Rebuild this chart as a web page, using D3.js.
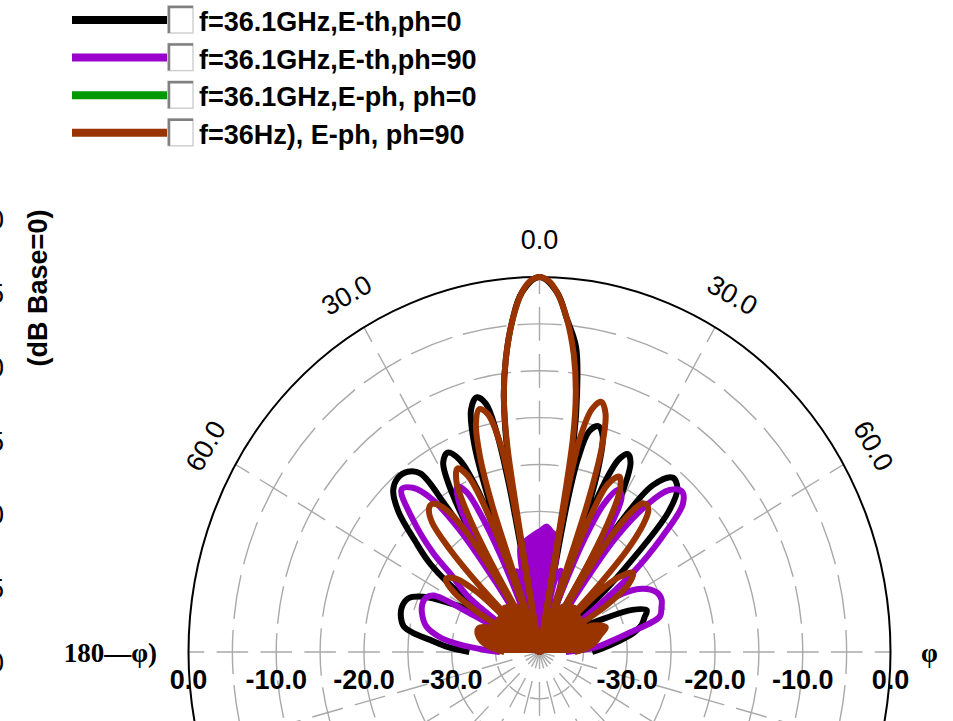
<!DOCTYPE html>
<html>
<head>
<meta charset="utf-8">
<script src="https://cdn.jsdelivr.net/npm/d3@7"></script>
<style>
  body { margin: 0; background: #fff; }
  svg { display: block; }
  text { font-family: "Liberation Sans", Arial, sans-serif; fill: #000; }
</style>
</head>
<body>
<script>
// legend
var seriesNames = ["f=36.1GHz,E-th,ph=0", "f=36.1GHz,E-th,ph=90",
                   "f=36.1GHz,E-ph, ph=0", "f=36Hz), E-ph, ph=90"];
var seriesColors = ["#000000", "#9900cc", "#009900", "#993300"];

// E-th, ph=0 : theta (deg) / level (dB)
var ethPh0Theta = [-90,-87,-84,-82,-80,-77,-73,-69,-66,-63,-60,-57.5,
  -56,-53,-50,-47,-44,-41,-38,-35.5,-34.4,-33.5,-33,
  -32,-30.5,-28.5,-26.2,-24,-22.3,-21.3,-20.5,
  -19.5,-18.5,-16.8,-14.8,-13,-11.8,-11,-10.5,
  -10,-8.5,-7,-5,-3,0,3,5,7.3,8.8,9.8,10.5,
  11.2,12,13.5,15.5,17.3,18.8,19.8,20.5,
  21.3,22.3,23.8,25.5,27.2,29,30.5,31.5,
  32.5,33.8,36,39.2,42,44.5,47,49,50.5,
  58,62,64,67,70,73,76,79,81,85,90];
var ethPh0Db = [-32,-29.5,-27.4,-25.5,-24.3,-23.8,-23.6,-24,-25.5,-28.5,-31.5,-40,
  -30,-24.5,-21.4,-18,-16,-15.4,-15.6,-16.6,-21,-28,-40,
  -27,-20.5,-17,-16.3,-17.5,-21,-27,-40,
  -22,-16.5,-13,-11.9,-12.8,-16,-22,-40,
  -20,-12.5,-8.5,-4.5,-1.6,0,-1.6,-4.3,-7.2,-12,-17,-40,
  -24,-19,-15.8,-15,-15.8,-19,-24,-40,
  -26,-20.5,-17.5,-16.6,-17.3,-20.5,-26,-40,
  -30,-23,-18,-16,-16.5,-19,-25.6,-31,-40,
  -38,-34,-32,-28.5,-27,-27.5,-28,-29,-30,-32,-34];

// E-th, ph=90
var ethPh90Theta = [-90,-88,-85,-82,-78,-73,-69,-66,-63.5,-62.5,-61.5,
  -57,-54,-50.5,-49,-45.6,-42.2,-39.5,-37,-35,-33.8,-33,
  -32,-30.5,-28,-26,-24.5,-23,-21,
  -19.5,-17,-14.5,-12,
  -11,-7,-3,1,3.5,6,9.2,10.5,
  13,15.5,18,19.5,
  21.5,23,25,27.5,29.5,31,32.5,33.5,
  34.5,35.5,38,40.5,43.4,46,48.7,51.5,54,55,
  56,60,64.6,68,71,74.6,78.7,82,85.4,90];
var ethPh90Db = [-35.5,-33.8,-30.8,-28.5,-26.8,-26,-25.7,-25.8,-26.5,-31,-40,
  -37,-30,-26.8,-24,-19.8,-16.6,-17.3,-19.5,-24,-31,-40,
  -28,-22.5,-20,-21,-24,-30,-40,
  -33,-31,-32,-40,
  -28.6,-28,-27.5,-27,-26.6,-27.1,-27.6,-40,
  -32,-31,-32,-40,
  -33,-27,-22.5,-20.5,-21,-24,-29,-40,
  -31,-25,-20,-17.3,-16.4,-17.3,-21.4,-26.4,-33,-40,
  -29.4,-26.5,-25.2,-25,-25.3,-25.8,-29.6,-31.8,-33.5,-37];
// the small central lobe of E-th, ph=90 shows as a solid patch
var ethPh90CoreTheta = [-12,-11,-7,-3,1,3.5,6,9.2,10.5];
var ethPh90CoreDb = [-40,-28.6,-28,-27.5,-27,-26.6,-27.1,-27.6,-40];

// E-ph, ph=0
var ephPh0Theta = [-6,-2,0,2,6];
var ephPh0Db = [-40,-38.6,-38.3,-38.6,-40];

// E-ph, ph=90
var ephPh90Theta = [-90,-85,-80,-75,-70,-66,-63,-61.5,
  -59,-57,-54,-51,-48,-45,
  -44,-43,-41.5,-39.5,-38,-36.5,-34.5,-33,-32,-31,
  -30,-29,-27.5,-25.5,-23.5,-22,-21,-20,
  -19,-18,-16.5,-14.8,-13,-11.5,-10.6,-10,
  -9.5,-8.5,-7,-5,-3,-1.5,0,1.5,3,5,7,8.5,9.5,10,
  10.6,11.5,13,14.8,16.5,18,19,20,
  21,22,23.5,26,28,29.5,30.5,31.5,
  32.5,33.5,35,36.5,37.8,39.5,41,42.5,43.5,44.5,
  46.5,48.5,51.5,54.5,57,60,
  62,65,70.7,75,80,85,90];
var ephPh90Db = [-36,-34.5,-33.3,-32.7,-32.6,-33.5,-36,-40,
  -32,-28.5,-26.8,-27.5,-30.5,-40,
  -30,-25,-21.5,-20.2,-20,-20.4,-22,-25,-30,-40,
  -28.5,-23,-19.5,-18.3,-19.5,-23,-28.5,-40,
  -23.5,-18,-14.5,-13.2,-14,-17,-22,-40,
  -18,-12.5,-8.5,-4.5,-1.6,-0.4,0,-0.4,-1.6,-4.3,-8,-12,-17,-40,
  -22,-16.5,-13.4,-12.4,-13.5,-17,-23,-40,
  -29,-24,-20.5,-19.2,-20.5,-24,-29,-40,
  -30,-25,-21.8,-20.3,-20.1,-20.5,-22,-25,-30,-40,
  -31,-28,-26.4,-27.5,-31,-40,
  -36,-33.3,-32,-32.8,-33.5,-34.5,-36];
// dense low-level lobes of E-ph, ph=90 near the pole merge into a solid patch
var ephPh90CoreTheta = [-90,-85,-80,-75,-70,-66,-60,-50,-40,-30,-20,-15,-12,
  12,15,20,30,40,50,60,66,70.7,75,80,85,90];
var ephPh90CoreDb = [-36,-34.5,-33.3,-32.7,-32.6,-33.5,-34,-34,-33.6,-34,-35,-36,-40,
  -40,-36,-35,-34,-33.6,-34,-34,-33.5,-32,-32.8,-33.5,-34.5,-36];

var dbTicks = [0, -10, -20, -30];
var dbRings = [-35, -30, -25, -20, -15, -10, -5];
var angleTicks = [-60, -30, 0, 30, 60];
var spokeAngles = [-90, -60, -30, 0, 30, 60, 90, 105, 120, 135, 150, 165, 180, 195, 210, 225, 240, 255];
var sideTicks = [0, -5, -10, -15, -20, -25, -30];

const WIDTH = 953;
const HEIGHT = 721;
const CX = 539.5, CY = 652;   // pole
const RX = 351, RY = 375;     // 0 dB ring (picture is a bit taller than wide)
const GRID = "#a9a9a9";

var rScale = d3.scaleLinear().domain([-40, 0]).range([0, 1]).clamp(true);

var polar = function (theta, r) {
  var a = theta * Math.PI / 180;
  return [CX + RX * r * Math.sin(a), CY - RY * r * Math.cos(a)];
};

var ringPath = function (r) {
  var rx = RX * r, ry = RY * r;
  return "M" + (CX + rx) + "," + CY +
    "A" + rx + "," + ry + " 0 1 1 " + (CX - rx) + "," + CY +
    "A" + rx + "," + ry + " 0 1 1 " + (CX + rx) + "," + CY;
};

var svg = d3.select("body").append("svg")
  .attr("width", WIDTH)
  .attr("height", HEIGHT);

// ---- grid
var grid = svg.append("g");

dbRings.forEach(function (db) {
  var r = rScale(db);
  var n = Math.max(1, Math.round(r * 3.8));
  grid.append("path")
    .attr("d", ringPath(r))
    .attr("fill", "none")
    .attr("stroke", GRID)
    .attr("stroke-width", 1.4)
    .attr("pathLength", 12)
    .attr("stroke-dasharray", (0.8 / n) + " " + (0.2 / n))
    .attr("stroke-dashoffset", 0.4 / n);
});

spokeAngles.forEach(function (t) {
  var p = polar(t, 1);
  grid.append("path")
    .attr("d", "M" + CX + "," + CY + "L" + p[0] + "," + p[1])
    .attr("stroke", GRID)
    .attr("stroke-width", 1.4)
    .attr("pathLength", 8)
    .attr("stroke-dasharray", "0.72 0.28")
    .attr("stroke-dashoffset", 0.36);
});

grid.append("path")
  .attr("d", ringPath(1))
  .attr("fill", "none")
  .attr("stroke", "#000")
  .attr("stroke-width", 2);

// ---- traces
var line = d3.line()
  .x(function (d) { return d[0]; })
  .y(function (d) { return d[1]; })
  .curve(d3.curveCatmullRom.alpha(0.5));

var toPoints = function (thetas, dbs) {
  return thetas.map(function (t, j) { return polar(t, rScale(dbs[j])); });
};

var drawCore = function (thetas, dbs, color) {
  var pts = [[CX, CY]].concat(toPoints(thetas, dbs), [[CX, CY]]);
  svg.append("path")
    .attr("d", d3.line()(pts) + "Z")
    .attr("fill", color)
    .attr("stroke", color)
    .attr("stroke-width", 2);
};

var drawTrace = function (thetas, dbs, color) {
  svg.append("path")
    .attr("d", line(toPoints(thetas, dbs)))
    .attr("fill", "none")
    .attr("stroke", color)
    .attr("stroke-width", 6)
    .attr("stroke-linejoin", "round");
};

drawTrace(ethPh0Theta, ethPh0Db, seriesColors[0]);
drawCore(ethPh90CoreTheta, ethPh90CoreDb, seriesColors[1]);
drawTrace(ethPh90Theta, ethPh90Db, seriesColors[1]);
drawTrace(ephPh0Theta, ephPh0Db, seriesColors[2]);
drawCore(ephPh90CoreTheta, ephPh90CoreDb, seriesColors[3]);
drawTrace(ephPh90Theta, ephPh90Db, seriesColors[3]);

// ---- radial tick labels
dbTicks.forEach(function (d) {
  [-1, 1].forEach(function (s) {
    svg.append("text")
      .attr("x", CX + s * RX * rScale(d))
      .attr("y", 689)
      .attr("text-anchor", "middle")
      .attr("font-size", 27)
      .attr("font-weight", "bold")
      .text(d.toFixed(1));
  });
});

// ---- angle labels
angleTicks.forEach(function (t) {
  var p = polar(t, 1.1);
  svg.append("text")
    .attr("transform", "translate(" + p[0] + "," + p[1] + ") rotate(" + t + ")")
    .attr("text-anchor", "middle")
    .attr("dy", "0.36em")
    .attr("font-size", 27)
    .text(Math.abs(t).toFixed(1));
});

svg.append("text")
  .attr("x", 157).attr("y", 662)
  .attr("text-anchor", "end")
  .attr("font-size", 27)
  .attr("font-weight", "bold")
  .style("font-family", "'Liberation Serif', 'Times New Roman', serif")
  .text("180\u2014\u03c6)");

svg.append("text")
  .attr("x", 921).attr("y", 662)
  .attr("font-size", 27)
  .attr("font-weight", "bold")
  .style("font-family", "'Liberation Serif', 'Times New Roman', serif")
  .text("\u03c6");

// ---- y title and the clipped ticks of the neighbouring axis
svg.append("text")
  .attr("transform", "translate(47,288) rotate(-90)")
  .attr("text-anchor", "middle")
  .attr("font-size", 27)
  .attr("font-weight", "bold")
  .text("(dB Base=0)");

var sideScale = d3.scaleLinear().domain([0, -30]).range([229, 672]);
sideTicks.forEach(function (v) {
  svg.append("text")
    .attr("x", 4).attr("y", sideScale(v))
    .attr("text-anchor", "end")
    .attr("font-size", 27)
    .text(v);
});

// ---- legend
var legend = svg.append("g");
seriesNames.forEach(function (name, i) {
  var yc = 20 + i * 37.6;
  legend.append("line")
    .attr("x1", 72).attr("x2", 167)
    .attr("y1", yc).attr("y2", yc)
    .attr("stroke", seriesColors[i])
    .attr("stroke-width", 8);
  legend.append("rect")
    .attr("x", 168).attr("y", yc - 14)
    .attr("width", 25).attr("height", 27)
    .attr("fill", "#fff")
    .attr("stroke", "#d0d0d0")
    .attr("stroke-width", 1.5);
  legend.append("path")
    .attr("d", "M169," + (yc + 13) + "V" + (yc - 13) + "H193")
    .attr("fill", "none")
    .attr("stroke", "#808080")
    .attr("stroke-width", 2.5);
  legend.append("text")
    .attr("x", 199).attr("y", yc + 11)
    .attr("font-size", 27)
    .attr("font-weight", "bold")
    .text(name);
});
</script>
</body>
</html>
